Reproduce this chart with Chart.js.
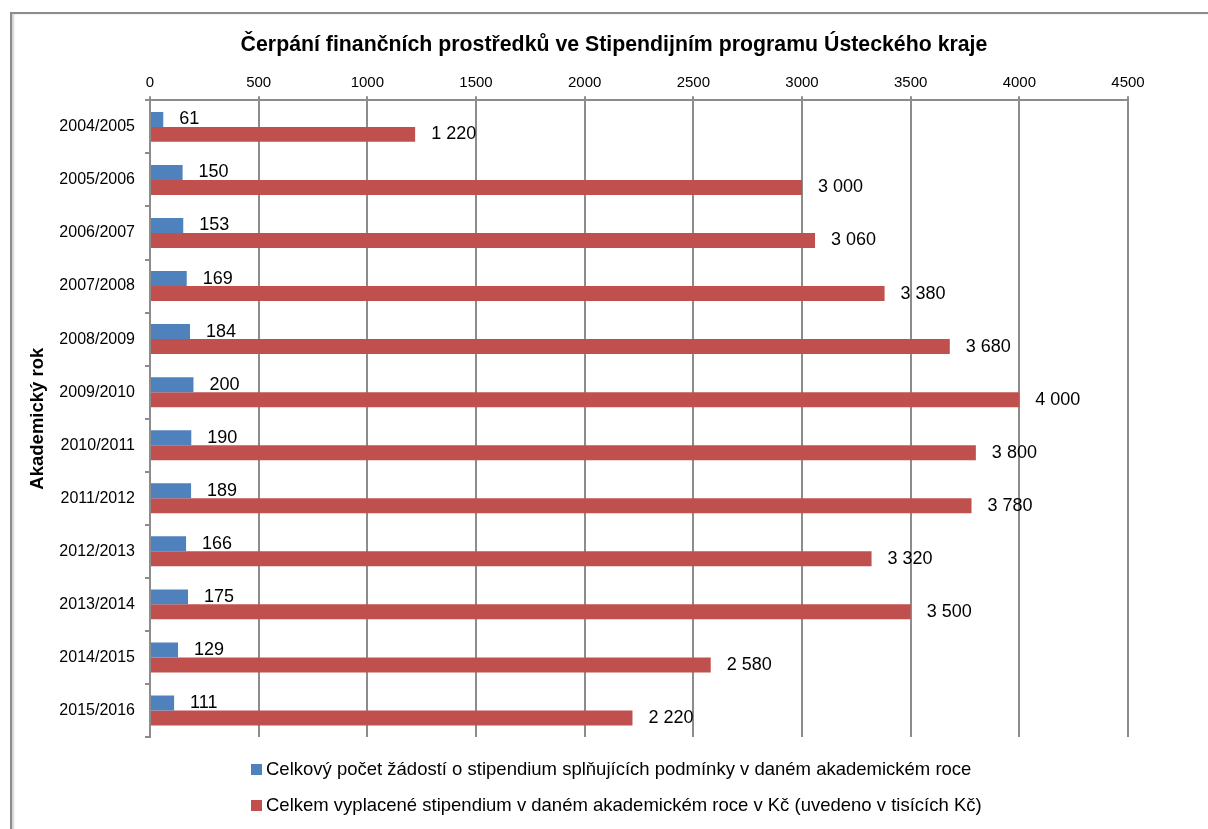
<!DOCTYPE html>
<html lang="cs">
<head>
    <meta charset="UTF-8">
    <title>Čerpání finančních prostředků</title>
    <script src="https://cdn.jsdelivr.net/npm/chart.js"></script>
    <style>
        body { margin: 0; background: #fff; font-family: "Liberation Sans", Arial, sans-serif; }
        .wrap { position: relative; width: 1208px; height: 829px; overflow: hidden; }
        .frame {
            position: absolute; left: 10px; top: 12px; width: 1300px; height: 900px;
            border-top: 2px solid #8c8c8c; border-left: 2px solid #8c8c8c;
            box-shadow: inset 2px 0 2px rgba(0, 0, 0, 0.18);
        }
        canvas { position: absolute; left: 0; top: 0; }
        .legend { position: absolute; left: 251px; top: 758px; font-size: 18.5px; color: #000; }
        .legend div { display: flex; align-items: center; height: 22px; margin-bottom: 14px; white-space: nowrap; }
        .legend span.box { display: inline-block; width: 11px; height: 11px; margin-right: 4px; }
    </style>
</head>
<body>
    <div class="wrap">
        <div class="frame"></div>
        <canvas id="chart" width="1208" height="829"></canvas>
        <div class="legend" id="legend"></div>
    </div>

    <script>
        const years = ['2004/2005', '2005/2006', '2006/2007', '2007/2008', '2008/2009', '2009/2010',
                       '2010/2011', '2011/2012', '2012/2013', '2013/2014', '2014/2015', '2015/2016'];
        const requests = [61, 150, 153, 169, 184, 200, 190, 189, 166, 175, 129, 111];
        const amounts = [1220, 3000, 3060, 3380, 3680, 4000, 3800, 3780, 3320, 3500, 2580, 2220];
        const seriesNames = [
            'Celkový počet žádostí o stipendium splňujících podmínky v daném akademickém roce',
            'Celkem vyplacené stipendium v daném akademickém roce v Kč (uvedeno v tisících Kč)'
        ];
        const colors = ['#4f81bd', '#c0504d'];

        const fontFamily = '"Liberation Sans", Arial, sans-serif';
        const gridColor = '#8c8c8c';

        // numbers like 1 220
        function fmt(v) {
            return String(v).replace(/\B(?=(\d{3})+(?!\d))/g, ' ');
        }

        // value labels to the right of each bar
        const valueLabels = {
            id: 'valueLabels',
            afterDatasetsDraw(chart) {
                const ctx = chart.ctx;
                ctx.save();
                ctx.font = '18px ' + fontFamily;
                ctx.fillStyle = '#000';
                ctx.textAlign = 'left';
                ctx.textBaseline = 'middle';
                chart.data.datasets.forEach((ds, i) => {
                    chart.getDatasetMeta(i).data.forEach((bar, j) => {
                        ctx.fillText(fmt(ds.data[j]), bar.x + 16, bar.y);
                    });
                });
                ctx.restore();
            }
        };

        new Chart(document.getElementById('chart').getContext('2d'), {
            type: 'bar',
            data: {
                labels: years,
                datasets: [
                    { label: seriesNames[0], data: requests, backgroundColor: colors[0] },
                    { label: seriesNames[1], data: amounts, backgroundColor: colors[1] }
                ]
            },
            options: {
                indexAxis: 'y',
                responsive: false,
                devicePixelRatio: 1,
                animation: false,
                categoryPercentage: 0.565,
                barPercentage: 1,
                layout: { padding: { left: 20, right: 0, top: 0, bottom: 92 } },
                plugins: {
                    legend: { display: false },
                    tooltip: { enabled: false },
                    title: {
                        display: true,
                        text: 'Čerpání finančních prostředků ve Stipendijním programu Ústeckého kraje',
                        color: '#000',
                        font: { family: fontFamily, size: 21.3, weight: 'bold' },
                        padding: { top: 32, bottom: 10 }
                    }
                },
                scales: {
                    x: {
                        position: 'top',
                        min: 0,
                        max: 4500,
                        ticks: {
                            stepSize: 500,
                            color: '#000',
                            padding: 5,
                            font: { family: fontFamily, size: 15 },
                            callback: (v) => String(v)
                        },
                        grid: { color: gridColor, lineWidth: 2, tickLength: 4 },
                        border: { color: gridColor, width: 2 },
                        afterFit(scale) { scale.height = 32.8; }
                    },
                    y: {
                        ticks: {
                            color: '#000',
                            padding: 10,
                            font: { family: fontFamily, size: 16 }
                        },
                        grid: { drawOnChartArea: false, drawTicks: true, tickLength: 5, color: gridColor, lineWidth: 2 },
                        border: { color: gridColor, width: 2 },
                        title: {
                            display: true,
                            text: 'Akademický rok',
                            color: '#000',
                            font: { family: fontFamily, size: 18.5, weight: 'bold' },
                            padding: { top: 7, bottom: 0 }
                        },
                        afterFit(scale) { scale.width = 130; }
                    },
                    // empty right-hand space, keeps the plot narrower than the title band
                    yRight: {
                        axis: 'y',
                        type: 'category',
                        position: 'right',
                        ticks: { display: false },
                        grid: { display: false },
                        border: { display: false },
                        afterFit(scale) { scale.width = 80; }
                    }
                }
            },
            plugins: [valueLabels]
        });

        // legend, two left-aligned rows like the original
        const legendEl = document.getElementById('legend');
        seriesNames.forEach((name, i) => {
            const row = document.createElement('div');
            const box = document.createElement('span');
            box.className = 'box';
            box.style.background = colors[i];
            row.appendChild(box);
            row.appendChild(document.createTextNode(name));
            legendEl.appendChild(row);
        });
    </script>
</body>
</html>
